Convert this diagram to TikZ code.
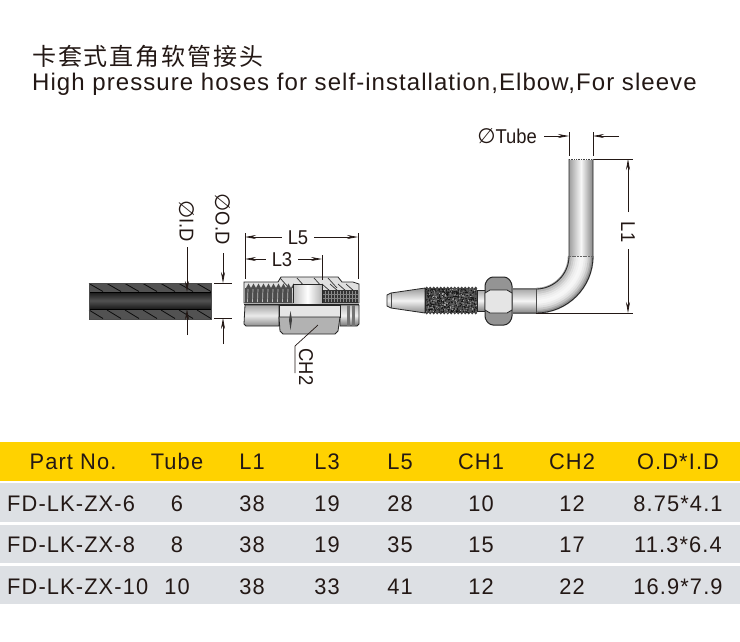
\documentclass[tikz,border=0pt]{standalone}
\usepackage{fontspec}
\setmainfont{Liberation Sans}
\newfontfamily\cjk{Noto Sans CJK SC}
\newfontfamily\symf{DejaVu Sans}
\newfontfamily\tblf[LetterSpace=5,FakeStretch=0.97]{Liberation Sans}
\newfontfamily\ttlf[LetterSpace=4.4]{Liberation Sans}
\newfontfamily\dimf[FakeStretch=0.92]{Liberation Sans}
\newcommand{\phisym}{{\symf\itshape\fontsize{21}{21}\selectfont ∅}}
\usetikzlibrary{arrows.meta}
\definecolor{hdrband}{rgb}{1,0.824,0}
\definecolor{rowg}{rgb}{0.867,0.878,0.894}
\definecolor{inkc}{rgb}{0.137,0.094,0.082}
\tikzset{
  cell/.style={font=\tblf\fontsize{22.5}{22.5}\selectfont,text=inkc,inner sep=0pt,anchor=base},
  dimtext/.style={font=\dimf\fontsize{20}{20}\selectfont,text=inkc,inner sep=0pt},
  dimline/.style={line width=0.7pt,color=inkc},
  dimarrow/.style={dimline,-{Stealth[length=11pt,width=4pt]}},
  outl/.style={draw=black!85,line width=0.8pt},
  hatchl/.style={draw=black!80,line width=0.7pt},
}
\begin{document}
\begin{tikzpicture}[x=1pt,y=-1pt]
\useasboundingbox (0,0) rectangle (740,641);
\fill[white] (0,0) rectangle (740,641);
% titles
\node[anchor=base west,inner sep=0pt,text=inkc,font=\cjk\fontsize{24}{24}\selectfont] (t1) at (32,65) {卡\hspace{1.9pt}套\hspace{1.9pt}式\hspace{1.9pt}直\hspace{1.9pt}角\hspace{1.9pt}软\hspace{1.9pt}管\hspace{1.9pt}接\hspace{1.9pt}头};
\node[anchor=base west,inner sep=0pt,text=inkc,font=\ttlf\fontsize{24}{24}\selectfont] (t2) at (32,90) {High pressure hoses for self-installation,Elbow,For sleeve};
% table
\fill[hdrband] (0,442) rectangle (740,481);
\fill[rowg] (0,483) rectangle (740,522);
\fill[rowg] (0,525) rectangle (740,563);
\fill[rowg] (0,566) rectangle (740,604);
\foreach \nm/\x/\tx in {h1/73/Part No.,h2/177/Tube,h3/252/L1,h4/327/L3,h5/400/L5,h6/481/CH1,h7/572/CH2,h8/678/O.D*I.D}
  \node[cell] (\nm) at (\x,469) {\tx};
\foreach \yy/\pn/\a/\b/\c/\d/\e/\f/\g [count=\r] in {
  511/FD-LK-ZX-6/6/38/19/28/10/12/8.75*4.1,
  552/FD-LK-ZX-8/8/38/19/35/15/17/11.3*6.4,
  594/FD-LK-ZX-10/10/38/33/41/12/22/16.9*7.9}{
  \node[cell,anchor=base west] (r\r p) at (7,\yy) {\pn};
  \node[cell] (r\r a) at (177,\yy) {\a};
  \node[cell] (r\r b) at (252,\yy) {\b};
  \node[cell] (r\r c) at (327,\yy) {\c};
  \node[cell] (r\r d) at (400,\yy) {\d};
  \node[cell] (r\r e) at (481,\yy) {\e};
  \node[cell] (r\r f) at (572,\yy) {\f};
  \node[cell] (r\r g) at (678,\yy) {\g};
}
% hose
\fill[black!68] (89,283) rectangle (211,319);
\shade[top color=black!90,bottom color=black!90,middle color=black!68] (89,292) rectangle (211,309);
\foreach \x in {96,114,132,150,168,186,204}{
  \draw[black!95,line width=0.8pt] (\x-7,283.5) -- (\x+7,291.5);
  \draw[black!95,line width=0.8pt] (\x-7,310) -- (\x+7,318.5);
}
\draw[black,line width=0.8pt] (89,292) -- (211,292) (89,309) -- (211,309);
\draw[black!70,line width=0.8pt] (89,283) rectangle (211,319);
% fitting: upper half
\fill[black!12,draw=black!85,line width=0.8pt] (244,303) -- (244,282) -- (278,282) -- (281,277) -- (338,277) -- (342,282) -- (353,282) -- (359,284) -- (359,303) -- cycle;
\foreach \x in {286,303,320,334}
  \draw[hatchl] (\x-6,278) -- (\x+3,288);
\foreach \x in {325,333,341,349}
  \draw[hatchl] (\x-3,284) -- (\x+5,291);
% inner threads
\fill[black!70] (245,288) -- (292,288) -- (292,303) -- (245,303) -- cycle;
\foreach \x in {246,251,...,291}{
  \fill[black!70] (\x,288) -- (\x+2.5,283.5) -- (\x+5,288) -- cycle;
  \draw[white!75!black,line width=0.7pt] (\x+2,289) -- (\x+1.5,302);
}
\shade[left color=black!25,right color=black!30,middle color=white] (293,284) rectangle (322,303);
\draw[outl] (293,303) -- (293,284) -- (322,284) -- (322,303);
\fill[black!80] (323,290) rectangle (358,303);
\foreach \x in {325,328,...,358}
  \draw[black!45,line width=0.5pt] (\x,291) -- (\x,302);
\foreach \yy in {294,298}
  \draw[black!50,line width=0.4pt] (323,\yy) -- (358,\yy);
% fitting: lower half
\shade[top color=black!35,bottom color=black!45,middle color=black!8,draw=black!85,line width=0.8pt] (245,305) -- (279,305) -- (279,326) -- (246,326) -- (244,324) -- cycle;
\shade[top color=black!25,bottom color=black!55,middle color=black!6,draw=black!85,line width=0.8pt] (340,305) -- (359,305) -- (359,324) -- (357,326) -- (340,326) -- cycle;
\fill[black!55] (347,305) rectangle (350,326);
\fill[black!55] (352,305) rectangle (355,326);
\fill[black!10,draw=black!85,line width=0.8pt] (279,305) -- (340,305) -- (340,317) -- (279,317) -- cycle;
\fill[black!30,draw=black!85,line width=0.8pt] (279,317) -- (340,317) -- (338,331) -- (335,334) -- (283,334) -- (280,331) -- cycle;
\fill[black!75] (290.5,311) -- (292,320) -- (290.5,330) -- (289,320) -- cycle;
\draw[black!85,line width=1pt] (244,304) -- (359,304);
% elbow tube
\shade[left color=black!38,right color=black!48,middle color=black!3] (569,160) rectangle (593,256);
\foreach \rr/\col in {33/38,35/28,37/20,39/13,41/8,43/5,45/3,47/4,49/8,51/13,53/22,55/33,56.5/45}
  \draw[black!\col,line width=2.4pt] (536+\rr,256) arc[start angle=0,end angle=90,radius=\rr];
\shade[top color=black!35,bottom color=black!48,middle color=black!4] (513,288.5) rectangle (536,313);
\draw[outl] (569,159) -- (569,256) arc[start angle=0,end angle=90,radius=33] -- (513,289);
\draw[outl] (593,159) -- (593,256) arc[start angle=0,end angle=90,radius=57] -- (513,313);
\draw[black!75,line width=1.6pt,dash pattern=on 1pt off 0.7pt] (569,159.5) -- (593,159.5);
\draw[black!60,line width=0.7pt,dash pattern=on 2pt off 0.7pt] (569,256) -- (593,256);
\draw[black!70,line width=0.8pt] (536,289) -- (536,313);
% cone and thread
\shade[top color=black!40,bottom color=black!45,middle color=black!5,draw=black!85,line width=0.8pt] (425,288) -- (391,293) -- (387,295) -- (387,306) -- (391,308) -- (425,313) -- cycle;
\draw[black!70,line width=0.6pt] (391,293) -- (391,308);
\fill[black!68] (425,288) rectangle (477,313);
\pgfmathsetseed{7}
\foreach \i in {1,...,420}{
  \pgfmathsetmacro{\px}{425.5+51*rnd}
  \pgfmathsetmacro{\py}{288.5+24*rnd}
  \fill[black!92] (\px,\py) circle[radius=0.7];
}
\foreach \i in {1,...,170}{
  \pgfmathsetmacro{\px}{425.5+51*rnd}
  \pgfmathsetmacro{\py}{288.5+24*rnd}
  \fill[black!25] (\px,\py) circle[radius=0.5];
}
\foreach \x in {425,428.5,...,474}{
  \fill[black!75] (\x,288.5) -- (\x+1.7,286.5) -- (\x+3.4,288.5) -- cycle;
  \fill[black!75] (\x,312.5) -- (\x+1.7,314.5) -- (\x+3.4,312.5) -- cycle;
}
\draw[black!85,line width=0.8pt] (425,288) -- (425,313);
\shade[top color=black!35,bottom color=black!48,middle color=black!4,draw=black!85,line width=0.8pt] (477,290) rectangle (486,311);
% nut
\fill[black!42,draw=black!85,line width=1pt,rounded corners=3pt] (485,283) -- (490,277) -- (507,277) -- (512,283) -- (512,319) -- (507,325) -- (490,325) -- (485,319) -- cycle;
\fill[black!10,draw=black!85,line width=0.8pt] (485,293) -- (490,290) -- (507,290) -- (512,293) -- (512,310) -- (507,313) -- (490,313) -- (485,310) -- cycle;
% dimension: phi I.D
\node[dimtext,rotate=-90] (id) at (187,221) {\phisym I.D};
\coordinate (idA) at (187,247); \coordinate (idB) at (187,292);
\coordinate (idC) at (187,335); \coordinate (idD) at (187,309);
\draw[dimarrow] (idA) -- (idB);
\draw[dimarrow] (idC) -- (idD);
% dimension: phi O.D
\node[dimtext,rotate=-90] (od) at (223,219) {\phisym O.D};
\coordinate (odA) at (223,253); \coordinate (odB) at (223,283);
\coordinate (odC) at (223,344); \coordinate (odD) at (223,318);
\coordinate (odE) at (214,283); \coordinate (odF) at (232,283);
\coordinate (odG) at (214,318); \coordinate (odH) at (232,318);
\draw[dimarrow] (odA) -- (odB);
\draw[dimarrow] (odC) -- (odD);
\draw[dimline] (odE) -- (odF);
\draw[dimline] (odG) -- (odH);
% dimension: L5
\node[dimtext] (l5) at (298,238) {L5};
\coordinate (l5a) at (245,233); \coordinate (l5b) at (245,279);
\coordinate (l5c) at (358,233); \coordinate (l5d) at (358,279);
\coordinate (l5e) at (245,237); \coordinate (l5f) at (358,237);
\draw[dimline] (l5a) -- (l5b);
\draw[dimline] (l5c) -- (l5d);
\draw[dimarrow] (l5.west |- l5e) ++(-6,0) -- (l5e);
\draw[dimarrow] (l5.east |- l5f) ++(6,0) -- (l5f);
% dimension: L3
\node[dimtext] (l3) at (282,260) {L3};
\coordinate (l3a) at (322,255); \coordinate (l3b) at (322,280);
\coordinate (l3e) at (245,259); \coordinate (l3f) at (322,259);
\draw[dimline] (l3a) -- (l3b);
\draw[dimarrow] (l3.west |- l3e) ++(-6,0) -- (l3e);
\draw[dimarrow] (l3.east |- l3f) ++(6,0) -- (l3f);
% leader CH2
\node[dimtext,rotate=-90] (ch2) at (306,367) {CH2};
\coordinate (chA) at (318,325); \coordinate (chB) at (295,346); \coordinate (chC) at (295,373);
\draw[dimline] (chA) -- (chB) -- (chC);
% dimension: Tube
\node[dimtext,anchor=east] (tb) at (537,136) {\phisym Tube};
\coordinate (tbA) at (569,132); \coordinate (tbB) at (569,156);
\coordinate (tbC) at (593,132); \coordinate (tbD) at (593,156);
\coordinate (tbE) at (544,136); \coordinate (tbF) at (569,136);
\coordinate (tbG) at (619,136); \coordinate (tbH) at (593,136);
\draw[dimline] (tbA) -- (tbB);
\draw[dimline] (tbC) -- (tbD);
\draw[dimarrow] (tbE) -- (tbF);
\draw[dimarrow] (tbG) -- (tbH);
% dimension: L1
\node[dimtext,rotate=-90] (l1) at (628,232) {L1};
\coordinate (l1a) at (594,159); \coordinate (l1b) at (633,159);
\coordinate (l1c) at (536,313); \coordinate (l1d) at (633,313);
\coordinate (l1e) at (628,212); \coordinate (l1f) at (628,159);
\coordinate (l1g) at (628,249); \coordinate (l1h) at (628,313);
\draw[dimline] (l1a) -- (l1b);
\draw[dimline] (l1c) -- (l1d);
\draw[dimarrow] (l1e) -- (l1f);
\draw[dimarrow] (l1g) -- (l1h);
\end{tikzpicture}
\end{document}
